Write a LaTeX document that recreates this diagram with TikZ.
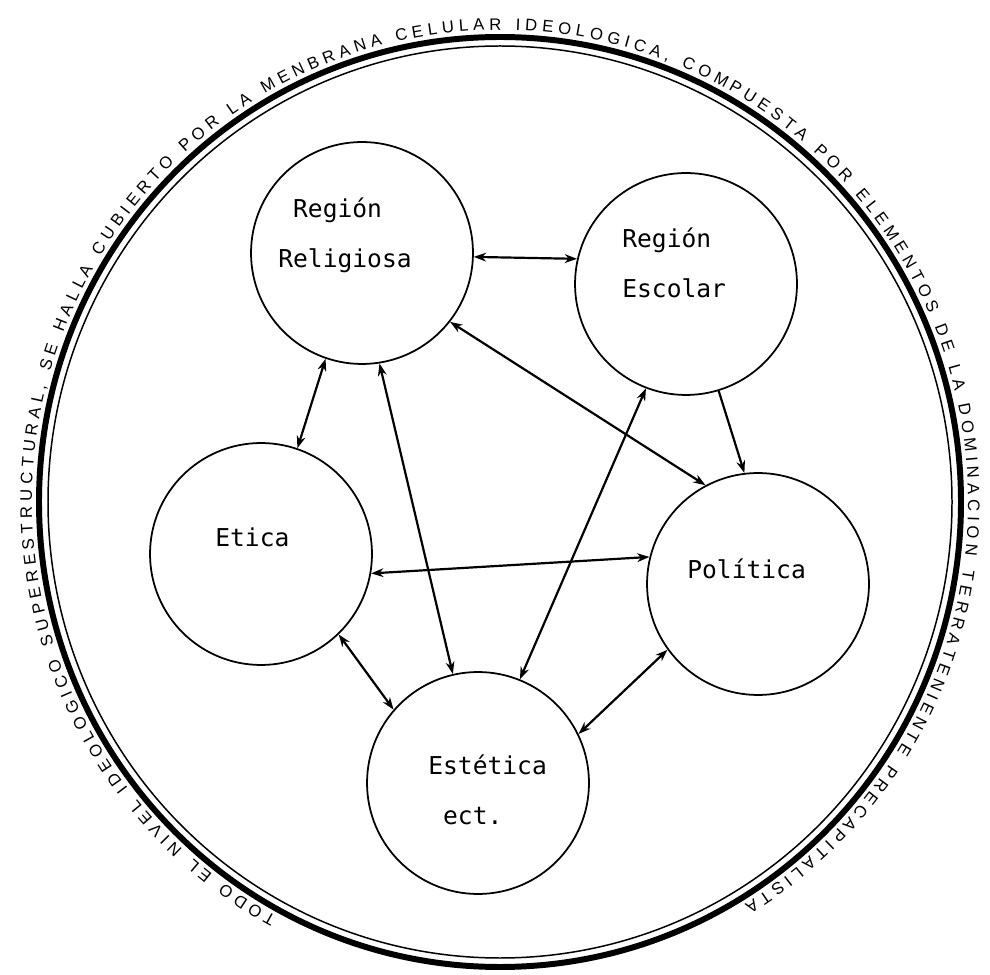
\documentclass[tikz,border=0pt]{standalone}
\usepackage{fontspec}
\usetikzlibrary{arrows.meta,decorations.text}
\newfontfamily\typefont{DejaVu Sans Mono}
\newfontfamily\handfont{Liberation Sans}
\begin{document}
\begin{tikzpicture}[x=0.02cm, y=0.02cm, >={Stealth[length=7pt,width=5pt]},
        region/.style={draw, circle, line width=1pt, minimum size=4.44cm, inner sep=0pt},
        lbl/.style={font=\typefont\fontsize{14}{28.4}\selectfont, align=left, inner sep=0pt},
        link/.style={line width=1.25pt}]
            \useasboundingbox (0,0) rectangle (990,974);

            \draw [line width=3.4pt]  (500,472) ellipse [x radius=461, y radius=465];
            \draw [line width=0.85pt] (500,472) ellipse [x radius=452, y radius=456];
            \path [decorate, decoration={text along path, text align={fit to path},
                text={|\handfont\fontsize{9.5}{11}\selectfont|TODO EL NIVEL IDEOLOGICO SUPERESTRUCTURAL, SE HALLA CUBIERTO POR LA MENBRANA CELULAR IDEOLOGICA, COMPUESTA POR ELEMENTOS DE LA DOMINACION TERRATENIENTE PRECAPITALISTA}}]
                (500,472) ++(241.5:468 and 472) arc [start angle=241.5, end angle=-58.5, x radius=468, y radius=472];

            \node [region] (rel) at (362,721) {};
            \node [region] (esc) at (686,690) {};
            \node [region] (eti) at (261,420) {};
            \node [region] (pol) at (758,390) {};
            \node [region] (est) at (478,191) {};

            \node [lbl, anchor=west]      (rel-t) at (278,739) {\ Región\\Religiosa};
            \node [lbl, anchor=west]      (esc-t) at (622,711) {Región\\Escolar};
            \node [lbl, anchor=base west] (eti-t) at (215,427) {Etica};
            \node [lbl, anchor=base west] (pol-t) at (687,395) {Política};
            \node [lbl, anchor=west]      (est-t) at (428,184) {Estética\\\ ect.};

            \draw [link, <->] (rel.-2)   -- (esc.167);
            \draw [link, <->] (rel.-38)  -- (pol.118);
            \draw [link, ->]  (esc.-73)  -- (pol.97);
            \draw [link, <->] (esc.-111) -- (est.68);
            \draw [link, <->] (rel.-109) -- (eti.71);
            \draw [link, <->] (rel.-81)  -- (est.103);
            \draw [link, <->] (eti.-10)  -- (pol.166);
            \draw [link, <->] (eti.-46)  -- (est.139);
            \draw [link, <->] (pol.216)  -- (est.26);
        \end{tikzpicture}
\end{document}
